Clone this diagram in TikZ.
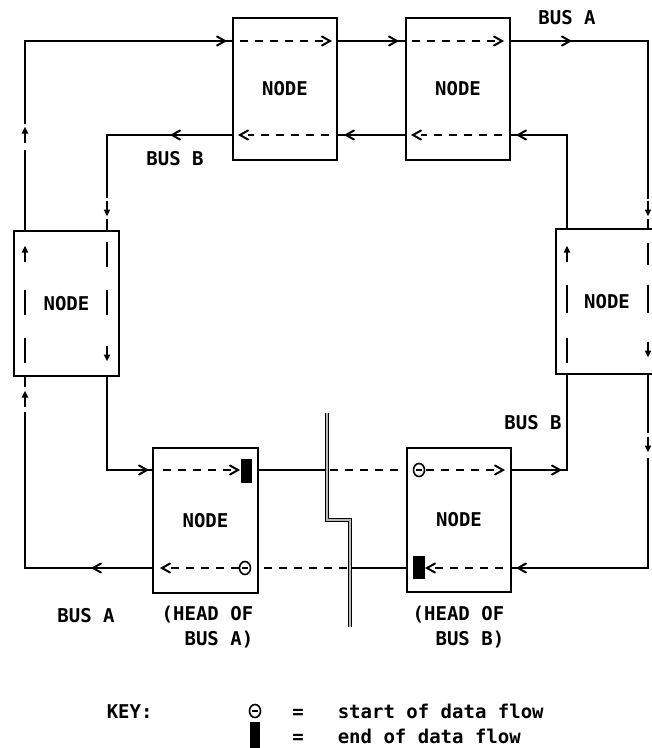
\documentclass[tikz,border=0pt]{standalone}
\usepackage{fontspec}
\setmainfont{DejaVu Sans Mono}
\usetikzlibrary{arrows.meta}
\begin{document}
\begin{tikzpicture}[x=1pt,y=-1pt, line width=1.5pt,
  box/.style={draw, line width=1.5pt, inner sep=0pt, font=\fontsize{19}{22}\selectfont\bfseries},
  lbl/.style={font=\fontsize{19}{22}\selectfont\bfseries, inner sep=0pt},
  dsh/.style={dash pattern=on 8pt off 7pt, line width=1.6pt},
  chev/.pic={\draw[line width=2pt, line join=miter, line cap=round] (-8,-4.5) -- (0,0) -- (-8,4.5);},
  theta/.pic={\draw[line width=1.6pt] (0,0) ellipse (5.5 and 6.5); \draw[line width=1.4pt] (-3,0) -- (3,0);},
  uarr/.pic={\draw[line width=1.7pt] (0,7.5) -- (0,-3); \fill (0,-8) -- (-3.3,-1.5) -- (3.3,-1.5) -- cycle;}]
\useasboundingbox (0,0) rectangle (652,748);
\clip (0,0) rectangle (652,748);

% nodes
\node[box, minimum width=104pt, minimum height=142pt] (n1) at (285,89) {NODE};
\node[box, minimum width=104pt, minimum height=142pt] (n2) at (458,89) {NODE};
\node[box, minimum width=105pt, minimum height=145pt] (nl) at (66.5,303.5) {NODE};
\node[box, minimum width=102pt, minimum height=145pt] (nr) at (607,301.5) {NODE};
\node[box, minimum width=105pt, minimum height=145pt] (nb1) at (205.5,520.5) {NODE};
\node[box, minimum width=104pt, minimum height=144pt] (nb2) at (459,520) {NODE};

% ---------- BUS A ----------
\draw (25,231) -- (25,150);
\pic at (25,135) {uarr};
\draw (25,124) -- (25,41) -- (233,41);
\pic at (225,41) {chev};
\draw[dsh] (225,41) -- (323,41);
\pic at (330,41) {chev};
\draw (337,41) -- (406,41);
\pic at (397,41) {chev};
\draw[dsh] (397,41) -- (495,41);
\pic at (502,41) {chev};
\draw (510,41) -- (648,41) -- (648,199);
\pic at (570,41) {chev};
\pic[rotate=180] at (648,208) {uarr};
\draw (648,219) -- (648,229);
\draw (648,243) -- (648,265);
\draw (648,285) -- (648,313);
\pic[rotate=180] at (648,349) {uarr};
\draw (648,374) -- (648,433);
\pic[rotate=180] at (648,444) {uarr};
\draw (648,458) -- (648,568) -- (511,568);
\pic[rotate=180] at (518,568) {chev};
\draw[dsh] (518,568) -- (435,568);
\pic[rotate=180] at (427,568) {chev};
\fill (413,556) rectangle (425,579);
\draw (407,568) -- (350,568);
\draw[dsh] (347,568) -- (262,568);
\pic at (245,568) {theta};
\draw[dsh] (239,568) -- (170,568);
\pic[rotate=180] at (162,568) {chev};
\draw (153,568) -- (25,568) -- (25,412);
\pic[rotate=180] at (93,568) {chev};
\pic at (25,399) {uarr};
\draw (25,387) -- (25,376);
\pic at (25,254) {uarr};
\draw (25,290) -- (25,315);
\draw (25,338) -- (25,363);

% ---------- BUS B ----------
\draw (511,470) -- (567,470) -- (567,374);
\pic at (560,470) {chev};
\pic at (567,254) {uarr};
\draw (567,285) -- (567,313);
\draw (567,338) -- (567,363);
\draw (567,229) -- (567,135) -- (510,135);
\pic[rotate=180] at (518,135) {chev};
\draw[dsh] (502,135) -- (421,135);
\pic[rotate=180] at (413,135) {chev};
\draw (406,135) -- (337,135);
\pic[rotate=180] at (346,135) {chev};
\draw[dsh] (329,135) -- (248,135);
\pic[rotate=180] at (240,135) {chev};
\draw (233,135) -- (107,135) -- (107,198);
\pic[rotate=180] at (172,135) {chev};
\pic[rotate=180] at (107,208) {uarr};
\draw (107,219) -- (107,231);
\draw (107,242) -- (107,267);
\draw (107,290) -- (107,315);
\pic[rotate=180] at (107,353) {uarr};
\draw (107,376) -- (107,470) -- (153,470);
\pic at (147,470) {chev};
\draw[dsh] (163,470) -- (231,470);
\pic at (238,470) {chev};
\fill (241,459) rectangle (252,483);
\draw (258,470) -- (327,470);
\draw[dsh] (330,470) -- (398,470);
\pic at (419,470) {theta};
\draw[dsh] (426,470) -- (495,470);
\pic at (503,470) {chev};

% break line
\draw[double=gray!55, double distance=1.6pt, line width=0.9pt] (327,413) -- (327,520) -- (350,520) -- (350,627);

% labels
\node[lbl, anchor=base] (lbA1) at (567,24) {BUS A};
\node[lbl, anchor=base] (lbB1) at (175,165) {BUS B};
\node[lbl, anchor=base] (lbB2) at (533,429) {BUS B};
\node[lbl, anchor=base] (lbA2) at (86,622) {BUS A};
\node[lbl, anchor=base east] (h1a) at (254,620) {(HEAD OF};
\node[lbl, anchor=base east] (h1b) at (254,645) {BUS A)};
\node[lbl, anchor=base east] (h2a) at (505,620) {(HEAD OF};
\node[lbl, anchor=base east] (h2b) at (505,645) {BUS B)};

% key
\node[lbl, anchor=base west] (key) at (106,718) {KEY:};
\pic at (255,711) {theta};
\node[lbl, anchor=base] (eq1) at (298,718) {=};
\node[lbl, anchor=base west] (k1) at (337,718) {start of data flow};
\fill (250,722) rectangle (260,748);
\node[lbl, anchor=base] (eq2) at (298,743) {=};
\node[lbl, anchor=base west] (k2) at (337,743) {end of data flow};
\end{tikzpicture}
\end{document}
